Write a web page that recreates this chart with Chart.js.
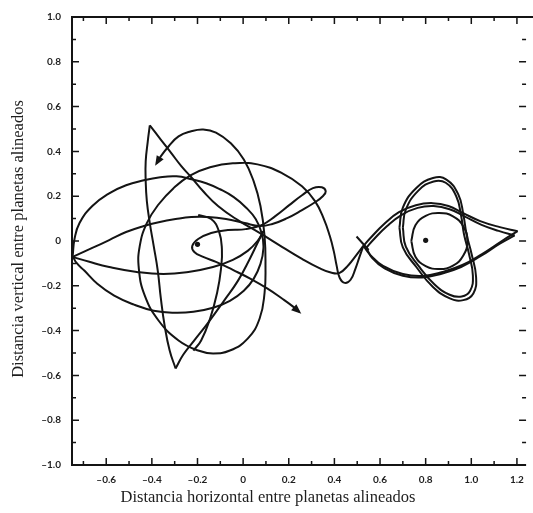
<!DOCTYPE html>
<html lang="es">
<head>
<meta charset="utf-8">
<title>Distancia entre planetas alineados</title>
<script src="https://cdn.jsdelivr.net/npm/chart.js@4/dist/chart.umd.min.js"></script>
<style>
  html, body { margin: 0; padding: 0; background: #fff; }
  #wrap { width: 533px; height: 513px; }
</style>
</head>
<body>
<div id="wrap"><canvas id="chart" width="533" height="513"></canvas></div>
<script>
// ejes
const xTickValues = [-0.6, -0.4, -0.2, 0, 0.2, 0.4, 0.6, 0.8, 1.0, 1.2];
const yTickValues = [-1.0, -0.8, -0.6, -0.4, -0.2, 0, 0.2, 0.4, 0.6, 0.8, 1.0];
const xMinorTicks = [-0.7, -0.5, -0.3, -0.1, 0.1, 0.3, 0.5, 0.7, 0.9, 1.1];
const yMinorTicks = [-0.9, -0.7, -0.5, -0.3, -0.1, 0.1, 0.3, 0.5, 0.7, 0.9];
const xTitle = "Distancia horizontal entre planetas alineados";
const yTitle = "Distancia vertical entre planetas alineados";

// masas (puntos)
const masses = [[-0.2, -0.015], [0.8, 0.003]];

// trayectoria, tramos [x, y]
const ellipseLoop = [[-0.747,-0.067],[-0.739,0.009],[-0.717,0.080],[-0.661,0.156],[-0.587,0.213],[-0.513,0.249],[-0.435,0.271],[-0.370,0.284],[-0.292,0.289],[-0.227,0.276],[-0.162,0.258],[-0.101,0.231],[-0.041,0.196],[0.011,0.151],[0.055,0.098],[0.081,0.036],[0.089,-0.031],[0.076,-0.102],[0.046,-0.169],[0.003,-0.222],[-0.058,-0.267],[-0.132,-0.298],[-0.218,-0.316],[-0.305,-0.320],[-0.392,-0.311],[-0.478,-0.284],[-0.565,-0.244],[-0.639,-0.191],[-0.695,-0.133],[-0.730,-0.098],[-0.747,-0.067]];

const ovalArc = [[0.527,-0.022],[0.510,-0.071],[0.492,-0.124],[0.471,-0.173],[0.445,-0.187],[0.423,-0.164],[0.410,-0.111],[0.397,-0.044],[0.380,0.022],[0.354,0.098],[0.315,0.178],[0.258,0.244],[0.172,0.302],[0.063,0.342],[-0.045,0.347],[-0.145,0.329],[-0.231,0.293],[-0.305,0.236],[-0.370,0.164],[-0.422,0.080],[-0.453,-0.022],[-0.457,-0.124],[-0.431,-0.244],[-0.370,-0.356],[-0.283,-0.444],[-0.197,-0.489],[-0.132,-0.502],[-0.058,-0.489],[0.020,-0.436],[0.072,-0.347],[0.094,-0.231],[0.098,-0.111],[0.094,0.022],[0.076,0.156],[0.046,0.267],[0.003,0.364],[-0.054,0.436],[-0.119,0.484],[-0.175,0.498],[-0.231,0.489],[-0.283,0.467],[-0.327,0.422],[-0.361,0.378],[-0.379,0.347]];

const cuspDown = [[-0.409,0.516],[-0.418,0.444],[-0.427,0.356],[-0.427,0.267],[-0.422,0.178],[-0.409,0.080],[-0.392,-0.022],[-0.374,-0.133],[-0.361,-0.253],[-0.344,-0.378],[-0.322,-0.489],[-0.296,-0.569]];

const cuspUp = [[-0.296,-0.569],[-0.262,-0.507],[-0.214,-0.444],[-0.153,-0.364],[-0.084,-0.267],[-0.023,-0.178],[0.029,-0.080],[0.063,-0.009],[0.089,0.044]];

const innerArc = [[-0.197,0.116],[-0.140,0.098],[-0.106,0.044],[-0.093,-0.036],[-0.097,-0.124],[-0.114,-0.231],[-0.145,-0.347],[-0.184,-0.444],[-0.218,-0.489]];

const topDiagonal = [[-0.409,0.516],[-0.361,0.453],[-0.314,0.391],[-0.270,0.333],[-0.231,0.289],[-0.175,0.222],[-0.110,0.156],[-0.023,0.093],[0.072,0.036],[0.172,-0.027],[0.258,-0.080],[0.332,-0.120],[0.388,-0.142],[0.423,-0.142],[0.462,-0.107],[0.497,-0.062],[0.527,-0.022]];

const upperLensLoop = [[-0.747,-0.071],[-0.661,-0.031],[-0.587,0.004],[-0.513,0.040],[-0.435,0.067],[-0.370,0.084],[-0.296,0.098],[-0.227,0.107],[-0.153,0.107],[-0.075,0.098],[0.007,0.080],[0.072,0.067],[0.128,0.076],[0.193,0.102],[0.258,0.138],[0.315,0.173],[0.349,0.200],[0.362,0.222],[0.345,0.240],[0.306,0.236],[0.258,0.204],[0.202,0.160],[0.141,0.111],[0.081,0.071],[0.011,0.053],[-0.067,0.049],[-0.140,0.036],[-0.197,0.009],[-0.223,-0.022],[-0.214,-0.049],[-0.175,-0.071],[-0.119,-0.093],[-0.045,-0.129],[0.033,-0.169],[0.107,-0.213],[0.172,-0.258],[0.219,-0.293],[0.245,-0.316]];

const lowerLens = [[-0.747,-0.071],[-0.674,-0.093],[-0.587,-0.116],[-0.466,-0.138],[-0.349,-0.147],[-0.240,-0.138],[-0.132,-0.116],[-0.045,-0.084],[0.020,-0.044],[0.063,0.000],[0.089,0.044]];

const rightLensTop = [[0.527,-0.022],[0.562,0.018],[0.618,0.076],[0.683,0.129],[0.757,0.160],[0.831,0.169],[0.900,0.156],[0.965,0.124],[1.039,0.089],[1.125,0.062],[1.203,0.044]];
const rightLensBottom = [[1.203,0.044],[1.134,0.000],[1.047,-0.058],[0.961,-0.107],[0.874,-0.138],[0.787,-0.156],[0.700,-0.147],[0.613,-0.111],[0.557,-0.062],[0.527,-0.022]];
const rightLensTop2 = [[0.540,-0.030],[0.575,0.010],[0.630,0.066],[0.695,0.117],[0.765,0.148],[0.835,0.156],[0.905,0.142],[0.970,0.110],[1.045,0.072],[1.120,0.045],[1.190,0.025]];
const rightLensBottom2 = [[1.190,0.025],[1.125,-0.012],[1.040,-0.068],[0.955,-0.116],[0.870,-0.146],[0.785,-0.163],[0.700,-0.155],[0.620,-0.122],[0.565,-0.075],[0.540,-0.030]];

const tallLoopA = [[0.685,0.060],[0.700,0.149],[0.759,0.237],[0.832,0.281],[0.891,0.274],[0.943,0.208],[0.965,0.119],[0.979,0.031],[1.001,-0.057],[1.021,-0.161],[1.009,-0.234],[0.965,-0.264],[0.906,-0.256],[0.832,-0.205],[0.759,-0.116],[0.700,-0.028],[0.685,0.060]];
const tallLoopB = [[0.700,0.060],[0.713,0.140],[0.768,0.225],[0.835,0.266],[0.888,0.260],[0.934,0.200],[0.955,0.115],[0.968,0.030],[0.990,-0.058],[1.007,-0.155],[0.995,-0.222],[0.958,-0.248],[0.905,-0.240],[0.838,-0.193],[0.768,-0.110],[0.713,-0.025],[0.700,0.060]];
const innerLoop = [[0.737,0.000],[0.755,0.070],[0.800,0.112],[0.860,0.125],[0.920,0.110],[0.965,0.065],[0.983,0.000],[0.965,-0.065],[0.920,-0.110],[0.860,-0.125],[0.800,-0.112],[0.755,-0.070],[0.737,0.000]];

const crossMark = [[0.497,0.020],[0.550,-0.040]];

const lineColor = "#141414";

const paths = [
  { data: ellipseLoop }, { data: ovalArc, arrow: true }, { data: cuspDown }, { data: cuspUp },
  { data: innerArc }, { data: topDiagonal }, { data: upperLensLoop, arrow: true }, { data: lowerLens },
  { data: rightLensTop }, { data: rightLensBottom }, { data: rightLensTop2 }, { data: rightLensBottom2 },
  { data: tallLoopA }, { data: tallLoopB }, { data: innerLoop }, { data: crossMark },
];

const datasets = paths.map((p) => ({
  data: p.data.map(([x, y]) => ({ x, y })),
  arrow: !!p.arrow,
  showLine: true,
  borderColor: lineColor,
  borderWidth: 2,
  pointRadius: 0,
  tension: 0.45,
  fill: false,
}));
datasets.push({
  data: masses.map(([x, y]) => ({ x, y })),
  showLine: false,
  pointRadius: 2.6,
  pointBackgroundColor: lineColor,
  pointBorderWidth: 0,
});

function fmt(v) {
  if (Math.abs(v) < 1e-9) return "0";
  return (v < 0 ? "\u2013" : "") + Math.abs(v).toFixed(1);
}

// marco (sin linea derecha, como en el escaneo) y marcas hacia dentro
const frameTicks = {
  id: "frameTicks",
  afterDraw(chart) {
    const { ctx, chartArea: a, scales: { x, y } } = chart;
    ctx.save();
    ctx.strokeStyle = lineColor;
    ctx.lineWidth = 2;
    ctx.beginPath();
    ctx.moveTo(chart.width, a.top);
    ctx.lineTo(a.left, a.top);
    ctx.lineTo(a.left, a.bottom);
    ctx.lineTo(a.right, a.bottom);
    ctx.stroke();
    ctx.lineWidth = 1.5;
    ctx.beginPath();
    const tickX = (v, len) => {
      const px = x.getPixelForValue(v);
      ctx.moveTo(px, a.bottom); ctx.lineTo(px, a.bottom - len);
      ctx.moveTo(px, a.top); ctx.lineTo(px, a.top + len);
    };
    const tickY = (v, len) => {
      const py = y.getPixelForValue(v);
      ctx.moveTo(a.left, py); ctx.lineTo(a.left + len, py);
      ctx.moveTo(a.right, py); ctx.lineTo(a.right - len, py);
    };
    xTickValues.forEach((v) => tickX(v, 7));
    xMinorTicks.forEach((v) => tickX(v, 4));
    yTickValues.forEach((v) => tickY(v, 7));
    yMinorTicks.forEach((v) => tickY(v, 4));
    ctx.stroke();
    ctx.restore();
  },
};

// flechas al final de los tramos marcados
const arrowHeads = {
  id: "arrowHeads",
  afterDatasetsDraw(chart) {
    const ctx = chart.ctx;
    chart.data.datasets.forEach((ds, i) => {
      if (!ds.arrow) return;
      const pts = chart.getDatasetMeta(i).data;
      const tip = pts[pts.length - 1];
      const prev = pts[pts.length - 2];
      const ang = Math.atan2(tip.y - prev.y, tip.x - prev.x);
      ctx.save();
      ctx.translate(tip.x, tip.y);
      ctx.rotate(ang);
      ctx.beginPath();
      ctx.moveTo(3, 0);
      ctx.lineTo(-7, -4);
      ctx.lineTo(-7, 4);
      ctx.closePath();
      ctx.fillStyle = lineColor;
      ctx.fill();
      ctx.restore();
    });
  },
};

// titulos de los ejes
const axisTitles = {
  id: "axisTitles",
  afterDraw(chart) {
    const { ctx, chartArea: a } = chart;
    ctx.save();
    ctx.fillStyle = "#1e1e1e";
    ctx.font = '16.5px "Liberation Serif"';
    ctx.textAlign = "center";
    ctx.textBaseline = "middle";
    ctx.fillText(xTitle, a.left + 196, a.bottom + 33);
    ctx.translate(19, (a.top + a.bottom) / 2 - 2);
    ctx.rotate(-Math.PI / 2);
    ctx.fillText(yTitle, 0, 0);
    ctx.restore();
  },
};

const tickFont = { family: "Lato", size: 10, weight: "bold" };

new Chart(document.getElementById("chart"), {
  type: "scatter",
  data: { datasets },
  plugins: [frameTicks, arrowHeads, axisTitles],
  options: {
    responsive: false,
    animation: false,
    devicePixelRatio: 1,
    layout: { padding: { top: 15, right: 2, left: 0, bottom: 0 } },
    plugins: { legend: { display: false }, tooltip: { enabled: false } },
    scales: {
      x: {
        type: "linear",
        min: -0.75,
        max: 1.24,
        grid: { display: false, drawTicks: false },
        border: { display: false },
        afterBuildTicks: (scale) => { scale.ticks = xTickValues.map((v) => ({ value: v })); },
        afterFit: (scale) => { scale.height = 48; },
        ticks: { font: tickFont, color: "#1e1e1e", padding: 9, maxRotation: 0, autoSkip: false, callback: (v) => fmt(v) },
      },
      y: {
        type: "linear",
        min: -1,
        max: 1,
        grid: { display: false, drawTicks: false },
        border: { display: false },
        afterBuildTicks: (scale) => { scale.ticks = yTickValues.map((v) => ({ value: v })); },
        afterFit: (scale) => { scale.width = 72; },
        ticks: { font: tickFont, color: "#1e1e1e", padding: 11, autoSkip: false, callback: (v) => fmt(v) },
      },
    },
  },
});
</script>
</body>
</html>
